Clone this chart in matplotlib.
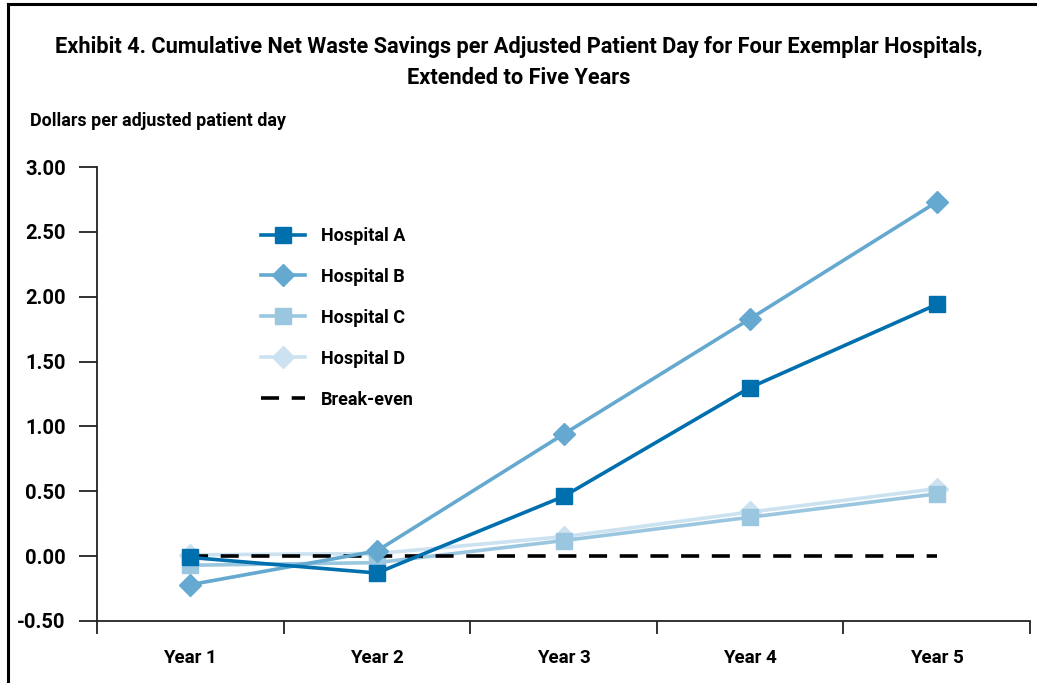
import matplotlib.pyplot as plt
from matplotlib.lines import Line2D

# no condensed face installed, Roboto is the narrowest of the lot
plt.rcParams['font.family'] = ['Roboto', 'DejaVu Sans']
plt.rcParams['font.weight'] = 'bold'

years = ['Year 1', 'Year 2', 'Year 3', 'Year 4', 'Year 5']
hospital_a = [-0.01, -0.13, 0.46, 1.30, 1.94]
hospital_b = [-0.22, 0.04, 0.94, 1.83, 2.73]
hospital_c = [-0.07, -0.05, 0.12, 0.30, 0.48]
hospital_d = [0.01, 0.02, 0.15, 0.34, 0.52]
break_even = [0, 0, 0, 0, 0]
y_ticks = [-0.5, 0.0, 0.5, 1.0, 1.5, 2.0, 2.5, 3.0]

col_a = '#006fae'
col_b = '#65a9d0'
col_c = '#9ac6e0'
col_d = '#cce2f0'

fig = plt.figure(figsize=(10.37, 6.83), dpi=100)
ax = fig.add_axes([97 / 1037, 1 - 621 / 683, 933 / 1037, 454 / 683])

x = list(range(1, len(years) + 1))
lw = 2.6
ax.plot(x, hospital_d, color=col_d, lw=lw, marker='D', ms=11, zorder=2)
ax.plot(x, hospital_c, color=col_c, lw=lw, marker='s', ms=11.5, zorder=3)
ax.plot(x, break_even, color='black', lw=2.6, dashes=(5, 3.5), zorder=4)
ax.plot(x, hospital_b, color=col_b, lw=lw, marker='D', ms=11, zorder=5)
ax.plot(x, hospital_a, color=col_a, lw=lw, marker='s', ms=11.5, zorder=6)

ax.set_xlim(0.5, 5.5)
ax.set_ylim(-0.5, 3.0)
ax.set_yticks(y_ticks)
ax.set_yticklabels(['%.2f' % v for v in y_ticks])
ax.set_xticks(x)
ax.set_xticklabels(years)
ax.set_xticks([i + 0.5 for i in range(0, 6)], minor=True)
ax.tick_params(axis='x', which='major', length=0, pad=20, labelsize=13.5)
ax.tick_params(axis='x', which='minor', length=9, width=1.3, direction='out', color='#222222')
ax.tick_params(axis='y', length=13, width=1.3, pad=9.5, labelsize=14.5, color='#222222')
for s in ['top', 'right']:
    ax.spines[s].set_visible(False)
for s in ['left', 'bottom']:
    ax.spines[s].set_linewidth(1.3)
    ax.spines[s].set_color('#222222')

handles = [
    Line2D([], [], color=col_a, lw=lw, marker='s', ms=11.5),
    Line2D([], [], color=col_b, lw=lw, marker='D', ms=11),
    Line2D([], [], color=col_c, lw=lw, marker='s', ms=11.5),
    Line2D([], [], color=col_d, lw=lw, marker='D', ms=11),
    Line2D([], [], color='black', lw=2.6, dashes=(5, 3.5)),
]
labels = ['Hospital A', 'Hospital B', 'Hospital C', 'Hospital D', 'Break-even']
ax.legend(handles, labels, loc='upper left', bbox_to_anchor=(0.168, 0.884),
          frameon=False, fontsize=13, handlelength=2.45, labelspacing=1.27,
          handletextpad=0.86, borderaxespad=0)

fig.text(0.5, 1 - 47 / 683, 'Exhibit 4. Cumulative Net Waste Savings per Adjusted Patient Day for Four Exemplar Hospitals,',
         ha='center', va='center', fontsize=15.7)
fig.text(0.5, 1 - 78 / 683, 'Extended to Five Years', ha='center', va='center', fontsize=15.7)
fig.text(30 / 1037, 1 - 121 / 683, 'Dollars per adjusted patient day', ha='left', va='center', fontsize=12.9)

# outer frame: top and left rules
fig.add_artist(Line2D([7.5 / 1037, 1], [1 - 3.5 / 683, 1 - 3.5 / 683], color='black', lw=2.2,
                      transform=fig.transFigure))
fig.add_artist(Line2D([7.5 / 1037, 7.5 / 1037], [0, 1 - 3.5 / 683], color='black', lw=2.2,
                      transform=fig.transFigure))

fig.savefig('out.png', dpi=100)
